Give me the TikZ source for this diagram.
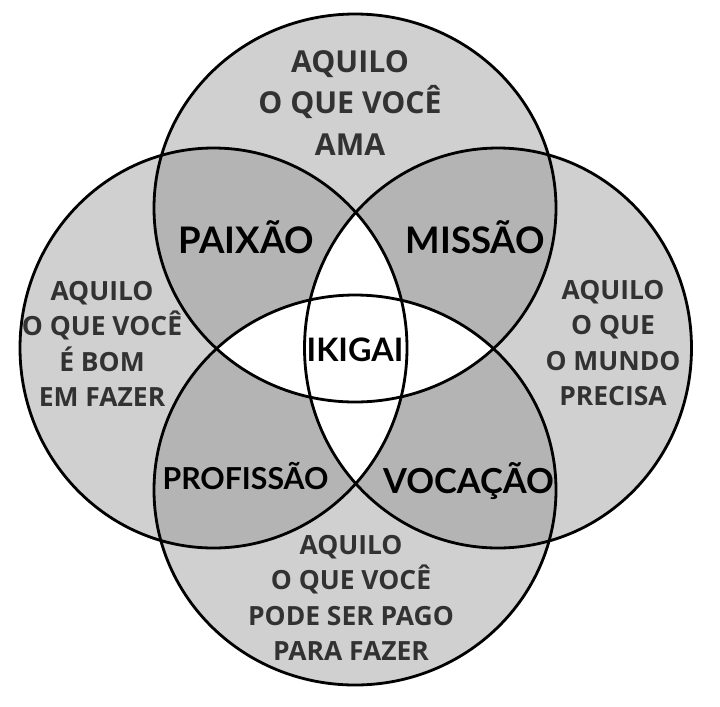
\documentclass[tikz,border=0pt]{standalone}
\usepackage{fontspec}
\setmainfont{Open Sans}
\newfontfamily\labelfont{Lato}
\usetikzlibrary{positioning}

\definecolor{ringgray}{RGB}{208,208,208}
\definecolor{lensgray}{RGB}{180,180,180}
\definecolor{textgray}{RGB}{50,50,50}

% the four sets
\newcommand\ringT{(cT) ellipse [x radius=201, y radius=194]}
\newcommand\ringB{(cB) ellipse [x radius=201, y radius=195]}
\newcommand\ringL{(cL) ellipse [x radius=193.5, y radius=200]}
\newcommand\ringR{(cR) ellipse [x radius=193.5, y radius=200]}

\begin{document}
\begin{tikzpicture}[x=0.025cm,y=0.025cm,
  ring/.style={draw=black, line width=2pt},
  saytext/.style={text=textgray, align=center,
    font=\bfseries\fontsize{18.8}{25.2}\selectfont},
  lenslabel/.style={text=black, font=\labelfont\bfseries\fontsize{#1}{#1}\selectfont},
  lenslabel/.default=26]

\path[use as bounding box, fill=white] (0,0) rectangle (720,-706);

  % Define the centres of the sets
  \coordinate (cT) at (355,-208);
  \coordinate (cB) at (355,-490);
  \coordinate (cL) at (213.5,-348);
  \coordinate (cR) at (498,-348);

  % Fill the sets, then the overlaps
  \foreach \ring in {\ringT, \ringB, \ringL, \ringR} {
    \fill[ringgray] \ring;
  }
  \begin{scope}
    \clip \ringT;
    \fill[lensgray] \ringL;
    \fill[lensgray] \ringR;
  \end{scope}
  \begin{scope}
    \clip \ringB;
    \fill[lensgray] \ringL;
    \fill[lensgray] \ringR;
  \end{scope}
  \begin{scope}
    \clip \ringT;
    \fill[white] \ringB;
  \end{scope}
  \begin{scope}
    \clip \ringL;
    \fill[white] \ringR;
  \end{scope}

  % Draw the outlines
  \foreach \ring in {\ringT, \ringB, \ringL, \ringR} {
    \draw[ring] \ring;
  }

  % What each set says
  \node[saytext, font=\bfseries\fontsize{21.5}{29.2}\selectfont]
    (ama) at (350,-103) {AQUILO\\O QUE VOCÊ\\AMA};
  \node[saytext] (bom) at (102,-344) {AQUILO\\O QUE VOCÊ\\É BOM\\EM FAZER};
  \node[saytext] (mundo) at (613,-343) {AQUILO\\O QUE\\O MUNDO\\PRECISA};
  \node[saytext] (pago) at (351,-598) {AQUILO\\O QUE VOCÊ\\PODE SER PAGO\\PARA FAZER};

  % The overlaps
  \node[lenslabel] (paixao) at (246.5,-237) {PAIXÃO};
  \node[lenslabel] (missao) at (475.5,-237) {MISSÃO};
  \node[lenslabel=23] (ikigai) at (355,-350) {IKIGAI};
  \node[lenslabel=21.5] (profissao) at (245.5,-476) {PROFISSÃO};
  \node[lenslabel=24.5] (vocacao) at (468.5,-481) {VOCAÇÃO};
\end{tikzpicture}
\end{document}
